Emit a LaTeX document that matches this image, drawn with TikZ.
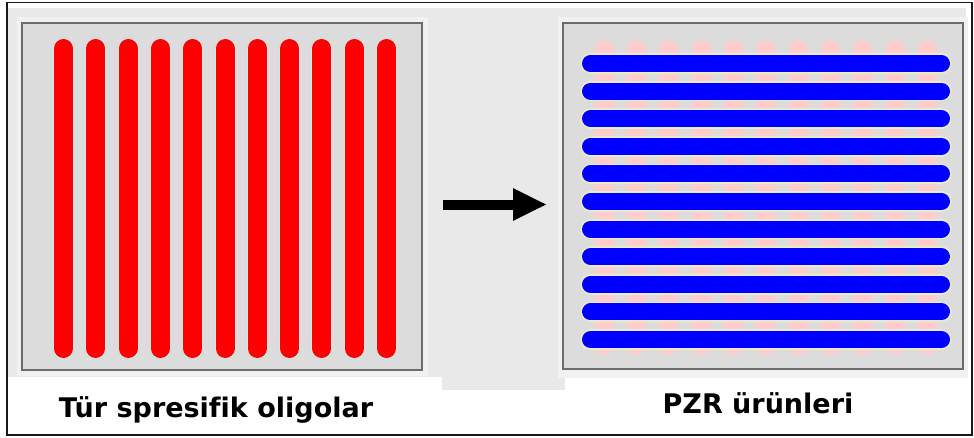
\documentclass[tikz,border=0pt]{standalone}
\usepackage{fontspec}
\setmainfont[Ligatures=NoCommon]{DejaVu Sans}
\usetikzlibrary{arrows.meta}

\definecolor{framegray}{RGB}{233,233,233}
\definecolor{halogray}{RGB}{241,241,241}
\definecolor{panelgray}{RGB}{220,220,220}
\definecolor{paneledge}{RGB}{108,108,108}
\definecolor{probe}{RGB}{255,0,0}
\definecolor{probehalo}{RGB}{212,232,232}
\definecolor{ghost}{RGB}{255,204,204}
\definecolor{product}{RGB}{0,0,255}
\definecolor{producthalo}{RGB}{236,234,206}

\begin{document}
\begin{tikzpicture}[x=1pt,y=-1pt,
  panel/.style={draw=paneledge,line width=2.5pt,fill=panelgray,
    minimum width=400pt,minimum height=347pt,inner sep=0pt,outer sep=0pt},
  caption/.style={font=\bfseries\fontsize{27}{32}\selectfont,anchor=base,inner sep=0pt},
  vbarhalo/.style={probehalo,line width=21pt,line cap=round},
  vbar/.style={probe,line width=19pt,line cap=round},
  ghostbar/.style={ghost,line width=19pt,line cap=round},
  hbarhalo/.style={producthalo,line width=20.5pt,line cap=round},
  hbar/.style={product,line width=17pt,line cap=round},
  flow/.style={black,line width=10pt,-{Triangle[length=34pt,width=30pt]}}
]
\useasboundingbox (0,0) rectangle (974,437);
\fill[white] (0,0) rectangle (974,437);

% grey backdrop behind both panels
\fill[framegray] (8,8) rectangle (966,377);
\fill[framegray] (442,377) rectangle (565,390);
\fill[halogray] (17,17) rectangle (428,376);
\fill[halogray] (558,17) rectangle (968,378);

% the two panels
\node[panel] (src) at (222,196.5) {};
\node[panel,minimum height=346pt] (pcr) at (763,196) {};

% species-specific oligos: vertical red strips
\foreach \i in {0,...,10} {
  \draw[vbarhalo] ({63.5+32.3*\i},48.5) -- ({63.5+32.3*\i},348.5);
  \draw[vbar] ({63.5+32.3*\i},48.5) -- ({63.5+32.3*\i},348.5);
}

% PCR products: faint oligo strips under horizontal blue strips
\foreach \i in {0,...,10} {
  \draw[ghostbar] ({604+32.35*\i},49.5) -- ({604+32.35*\i},345.5);
}
\foreach \j in {0,...,10} {
  \draw[hbarhalo] (590.5,{63.5+27.6*\j}) -- (941.5,{63.5+27.6*\j});
}
\foreach \j in {0,...,10} {
  \draw[hbar] (590.5,{63.5+27.6*\j}) -- (941.5,{63.5+27.6*\j});
}

% arrow between the panels
\coordinate (flowstart) at (443,204.5);
\coordinate (flowend) at (547,204.5);
\draw[flow] (flowstart) -- (flowend);

% captions
\node[caption] (srclabel) at (216,417) {Tür spresifik oligolar};
\node[caption] (pcrlabel) at (758,413) {PZR ürünleri};

% outer frame
\draw[black!90,line width=1.5pt] (7,2.5) rectangle (972,435);
\end{tikzpicture}
\end{document}
